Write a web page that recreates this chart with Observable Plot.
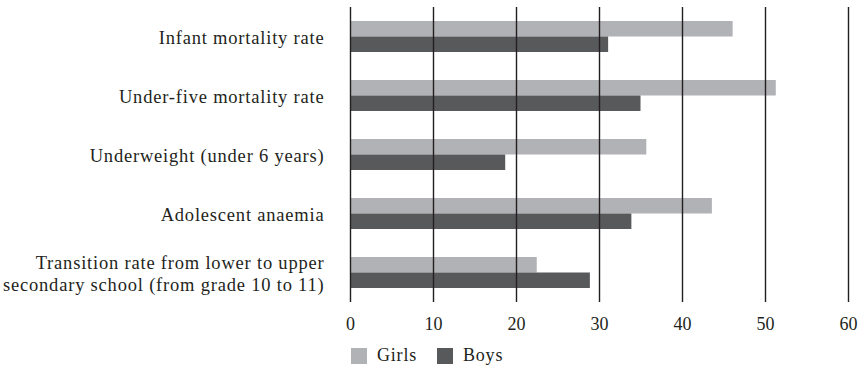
<!DOCTYPE html>
<html>
<head>
<meta charset="utf-8">
<script src="https://cdn.jsdelivr.net/npm/d3@7"></script>
<script src="https://cdn.jsdelivr.net/npm/@observablehq/plot@0.6"></script>
<style>
  html, body { margin: 0; padding: 0; background: #fff; }
  #chart svg { font-family: "Liberation Serif", serif; }
  #chart svg g[aria-label="y-axis tick label"] text { letter-spacing: 0.8px; }
  .legend { display: flex; align-items: center; margin: 5px 0 0 351px; font-family: "Liberation Serif", serif; font-size: 18px; letter-spacing: 0.8px; color: #231f20; }
  .legend .sw { width: 16px; height: 16px; display: inline-block; margin-right: 10px; }
  .legend .item { display: flex; align-items: center; margin-right: 20px; }
</style>
</head>
<body>
<div id="chart"></div>
<script>
const categories = [
  "Infant mortality rate",
  "Under-five mortality rate",
  "Underweight (under 6 years)",
  "Adolescent anaemia",
  "Transition rate from lower to upper\nsecondary school (from grade 10 to 11)"
];
const girls = [46.1, 51.3, 35.7, 43.6, 22.5];
const boys = [31.1, 35.0, 18.7, 33.9, 28.9];
const series = ["Girls", "Boys"];
const colors = ["#b1b2b5", "#58595b"];
const xTicks = [0, 10, 20, 30, 40, 50, 60];

const girlsData = categories.map((c, i) => ({category: c, value: girls[i]}));
const boysData = categories.map((c, i) => ({category: c, value: boys[i]}));

const plot = Plot.plot({
  width: 859,
  height: 340,
  marginTop: 7,
  marginBottom: 38,
  marginLeft: 350,
  marginRight: 11,
  style: {fontFamily: "'Liberation Serif', serif", fontSize: "18px", color: "#231f20"},
  x: {domain: [0, 60], ticks: xTicks, label: null},
  y: {domain: categories, paddingInner: 0.475, paddingOuter: 0.2375, label: null},
  marks: [
    Plot.barX(girlsData, {x: "value", y: "category", fill: colors[0], insetBottom: 15.5}),
    Plot.barX(boysData, {x: "value", y: "category", fill: colors[1], insetTop: 15.5}),
    Plot.ruleX(xTicks, {stroke: "#231f20", strokeWidth: 1.4}),
    Plot.axisX({ticks: xTicks, tickSize: 0, tickPadding: 15, fontSize: 18, label: null}),
    Plot.axisY({tickSize: 0, tickPadding: 26, fontSize: 18.5, lineHeight: 1.2, label: null})
  ]
});
document.getElementById("chart").appendChild(plot);

const legend = document.createElement("div");
legend.className = "legend";
series.forEach((s, i) => {
  const item = document.createElement("span");
  item.className = "item";
  const sw = document.createElement("span");
  sw.className = "sw";
  sw.style.background = colors[i];
  item.appendChild(sw);
  item.appendChild(document.createTextNode(s));
  legend.appendChild(item);
});
document.getElementById("chart").appendChild(legend);
</script>
</body>
</html>
